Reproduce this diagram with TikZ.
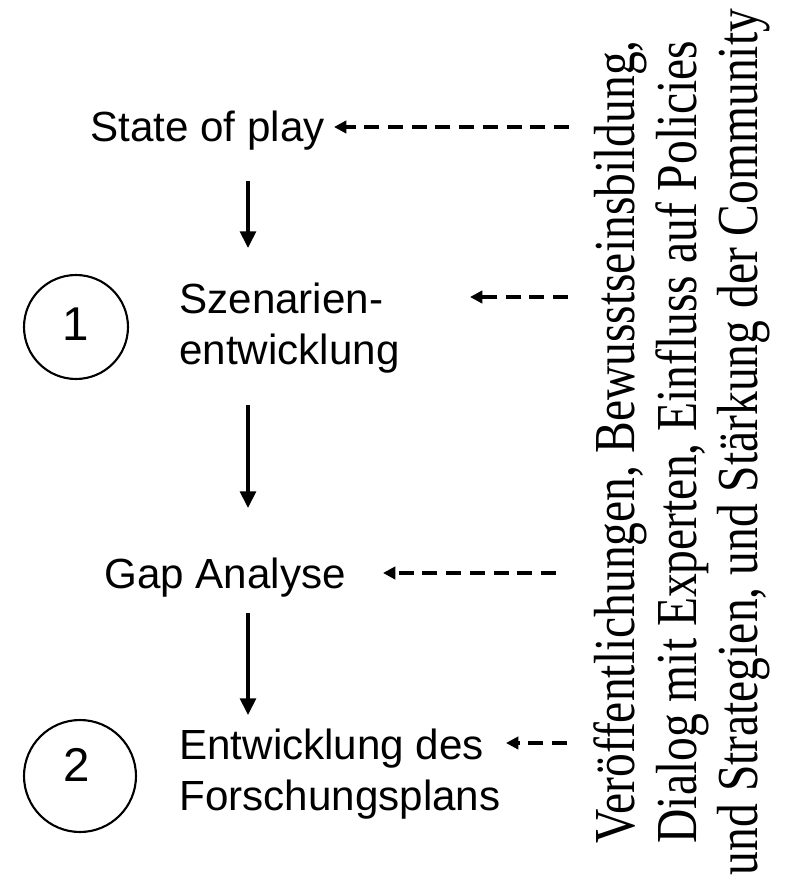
\documentclass[tikz,border=0pt]{standalone}
\usepackage{fontspec}
\setmainfont{Liberation Serif}
\setsansfont{Liberation Sans}
\newfontfamily\narrowserif[FakeStretch=0.82]{Liberation Serif}
\usetikzlibrary{arrows.meta}

\begin{document}
\begin{tikzpicture}[x=0.02cm,y=-0.02cm,
  stage/.style={font=\sffamily\fontsize{24}{29}\selectfont, inner sep=0pt, align=left},
  ring/.style={draw, circle, line width=1.2pt, inner sep=0pt},
  num/.style={font=\sffamily\fontsize{27}{30}\selectfont, inner sep=0pt},
  flow/.style={line width=2pt, -{Triangle[length=9.5pt,width=9pt]}},
  feed/.style={line width=2.2pt, dash pattern=on 8.5pt off 5pt, -{Triangle[length=7pt,width=7pt]}}]
\useasboundingbox (0,0) rectangle (788,881);

\node[stage, anchor=base west] (play) at (90,142) {State of play};
\node[stage, anchor=north west] (szen) at (179,283) {Szenarien-\\entwicklung};
\node[stage, anchor=base west] (gap) at (104,588) {Gap Analyse};
\node[stage, anchor=north west] (plan) at (179,729) {Entwicklung des\\Forschungsplans};

\node[ring, minimum size=2.08cm] (c1) at (76,327) {};
\node[num] (n1) at (76,324) {1};
\node[ring, minimum size=2.24cm] (c2) at (80,776) {};
\node[num] (n2) at (77,765) {2};

\node[rotate=90, align=center, inner sep=0pt, font=\narrowserif\fontsize{33}{35}\selectfont] (info) at (682,442)
  {Veröffentlichungen, Bewusstseinsbildung,\\Dialog mit Experten, Einfluss auf Policies\\und Strategien, und Stärkung der Community};

\coordinate (a1) at (248,181);
\coordinate (b1) at (248,248);
\coordinate (a2) at (248,405);
\coordinate (b2) at (248,508);
\coordinate (a3) at (248,613);
\coordinate (b3) at (248,715);
\draw[flow] (a1) -- (b1);
\draw[flow] (a2) -- (b2);
\draw[flow] (a3) -- (b3);

\coordinate (src1) at (569,127);
\coordinate (tip1) at (334,127);
\coordinate (src2) at (568,297);
\coordinate (tip2) at (470,297);
\coordinate (src3) at (556,573);
\coordinate (tip3) at (383,573);
\coordinate (src4) at (567,743);
\coordinate (tip4) at (506,743);
\draw[feed] (src1) -- (tip1);
\draw[feed] (src2) -- (tip2);
\draw[feed] (src3) -- (tip3);
\draw[feed] (src4) -- (tip4);
\end{tikzpicture}
\end{document}
